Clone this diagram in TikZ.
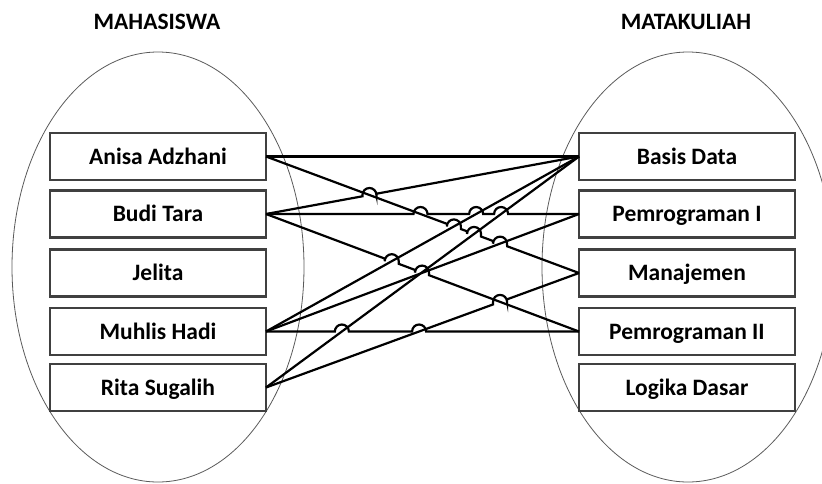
\documentclass[tikz,border=0pt]{standalone}
\usepackage{fontspec}
\setmainfont{Carlito}
\usetikzlibrary{calc}
\definecolor{boxgray}{RGB}{64,64,64}
\definecolor{ellgray}{RGB}{90,90,90}
\begin{document}
\begin{tikzpicture}[x=1pt,y=-1pt,
  boxst/.style={draw=boxgray, line width=2.5pt, minimum width=216pt, minimum height=47pt,
    inner sep=0pt, outer sep=0pt, fill=white, text height=15pt, text depth=0pt,
    font=\fontsize{23.5}{26}\selectfont\bfseries},
  conn/.style={line width=2.2pt, black, line join=miter},
  setell/.style={draw=ellgray, line width=0.8pt},
  head/.style={inner sep=0pt, text height=15pt, text depth=0pt, font=\fontsize{23.5}{26}\selectfont\bfseries}]
\useasboundingbox (0,0) rectangle (822,483);
\clip (0,0) rectangle (822,483);
% sets
\draw[setell] (158,267) ellipse [x radius=146, y radius=215];
\draw[setell] (688,267) ellipse [x radius=146, y radius=215];
% headers
\node[head] (hm) at (157,21.5) {MAHASISWA};
\node[head] (hk) at (686,21.5) {MATAKULIAH};
% boxes
\node[boxst] (anisa)  at (158,156.5) {Anisa Adzhani};
\node[boxst] (budi)   at (158,214)   {Budi Tara};
\node[boxst] (jelita) at (158,273)   {Jelita};
\node[boxst] (muhlis) at (158,331.5) {Muhlis Hadi};
\node[boxst] (rita)   at (158,387.5) {Rita Sugalih};
\node[boxst] (bd)  at (687,156.5) {Basis Data};
\node[boxst] (p1)  at (687,214)   {Pemrograman I};
\node[boxst] (man) at (687,273)   {Manajemen};
\node[boxst] (p2)  at (687,331.5) {Pemrograman II};
\node[boxst] (ld)  at (687,387.5) {Logika Dasar};
% connectors
\draw[conn] (anisa.east) -- (bd.west);
\draw[conn] (anisa.east)
  -- ($(anisa.east)!0.5779!(man.west)$) -- ++(0,2.605) arc[start angle=180,end angle=0,radius=7pt] -- ($(anisa.east)!0.6227!(man.west)$)
  -- ($(anisa.east)!0.6423!(man.west)$) -- ++(0,2.605) arc[start angle=180,end angle=0,radius=7pt] -- ($(anisa.east)!0.6871!(man.west)$)
  -- ($(anisa.east)!0.7255!(man.west)$) -- ++(0,2.605) arc[start angle=180,end angle=0,radius=7pt] -- ($(anisa.east)!0.7703!(man.west)$)
  -- (man.west);
\draw[conn] (budi.east)
  -- ($(budi.east)!0.3081!(bd.west)$) -- ++(0,-1.286) arc[start angle=180,end angle=0,radius=7pt] -- ($(budi.east)!0.3529!(bd.west)$)
  -- (bd.west);
\draw[conn] (budi.east)
  -- ($(budi.east)!0.4712!(p1.west)$) arc[start angle=180,end angle=0,radius=7pt]
  -- ($(budi.east)!0.6490!(p1.west)$) arc[start angle=180,end angle=0,radius=7pt]
  -- ($(budi.east)!0.7287!(p1.west)$) arc[start angle=180,end angle=0,radius=7pt]
  -- (p1.west);
\draw[conn] (budi.east)
  -- ($(budi.east)!0.3793!(p2.west)$) -- ++(0,2.627) arc[start angle=180,end angle=0,radius=7pt] -- ($(budi.east)!0.4241!(p2.west)$)
  -- ($(budi.east)!0.4761!(p2.west)$) -- ++(0,2.627) arc[start angle=180,end angle=0,radius=7pt] -- ($(budi.east)!0.5209!(p2.west)$)
  -- (p2.west);
\draw[conn] (muhlis.east) -- (bd.west);
\draw[conn] (muhlis.east) -- (p1.west);
\draw[conn] (muhlis.east)
  -- ($(muhlis.east)!0.2200!(p2.west)$) arc[start angle=180,end angle=0,radius=7pt]
  -- ($(muhlis.east)!0.4667!(p2.west)$) arc[start angle=180,end angle=0,radius=7pt]
  -- (p2.west);
\draw[conn] (rita.east) -- (bd.west);
\draw[conn] (rita.east)
  -- ($(rita.east)!0.7254!(man.west)$) -- ++(0,-2.560) arc[start angle=180,end angle=0,radius=7pt] -- ($(rita.east)!0.7702!(man.west)$)
  -- (man.west);
\end{tikzpicture}
\end{document}
